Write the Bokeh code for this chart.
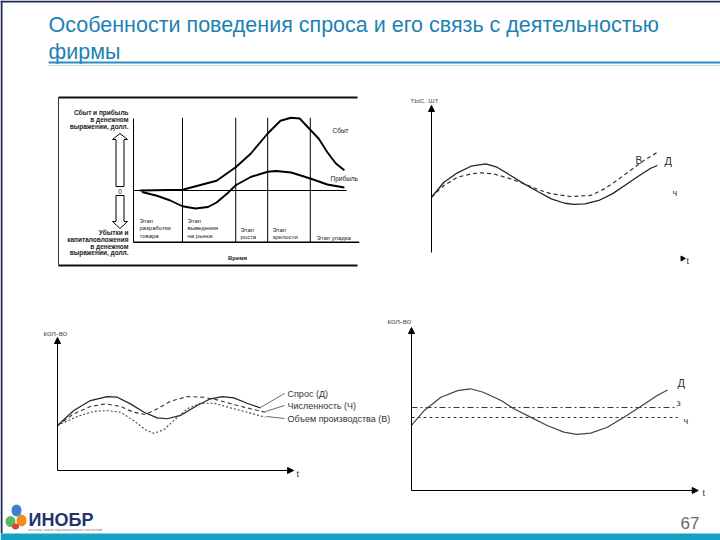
import math
from bokeh.plotting import figure
from bokeh.models import Range1d, Arrow, NormalHead
from bokeh.core.properties import value
from bokeh.embed import file_html
from bokeh.resources import INLINE

# ---------------- data ----------------
# Chart A: product life cycle (time units 0..100, money units)
plc_stage_bounds = [23, 48, 63, 83]
sales_t = [3, 23, 31, 39, 48, 55, 63, 69, 74, 78, 82, 87, 91, 95, 99]
sales_v = [0, 1, 7, 13, 31, 49, 76, 93, 97, 96, 84, 69, 51, 36, 27]
profit_t = [4, 11, 17, 23, 29, 35, 39, 44, 48, 55, 63, 67, 74, 83, 91, 99]
profit_v = [-2, -7, -13, -21, -24, -22, -16, -4, 7, 18, 25, 26, 24, 16, 8, 4]

# Chart B: demand (Д) and output (В)
demand_b_t = [0, 0.55, 1.15, 1.75, 2.4, 2.9, 3.5, 4.1, 4.7, 5.3, 5.9, 6.3, 6.8, 7.4, 8.0, 8.55, 9.15, 9.7, 10]
demand_b_q = [3.76, 4.78, 5.42, 5.87, 6.03, 5.80, 5.24, 4.67, 4.15, 3.65, 3.35, 3.27, 3.31, 3.54, 3.99, 4.56, 5.19, 5.73, 5.92]
output_b_t = [0, 0.55, 1.15, 1.75, 2.2, 2.75, 3.5, 4.1, 4.7, 5.3, 6.15, 7.05, 7.65, 8.2, 8.8, 9.4, 10]
output_b_q = [3.76, 4.56, 5.12, 5.35, 5.42, 5.35, 5.01, 4.67, 4.29, 3.99, 3.81, 3.88, 4.33, 4.90, 5.58, 6.26, 6.82]

# Chart C: demand, headcount, output
demand_c_t = [0, 0.79, 1.6, 2.41, 2.9, 3.54, 4.2, 4.84, 5.33, 5.97, 6.78, 7.43, 8.0, 8.56, 9.2, 9.85]
demand_c_q = [3.38, 4.51, 5.26, 5.56, 5.51, 5.01, 4.38, 3.96, 3.89, 4.14, 4.89, 5.39, 5.56, 5.46, 5.06, 4.71]
staff_c_t = [0, 0.79, 1.6, 2.33, 3.06, 3.7, 4.27, 4.84, 5.49, 6.3, 7.1, 7.75, 8.56, 9.37, 10.1]
staff_c_q = [3.38, 4.26, 4.81, 5.01, 4.81, 4.38, 4.21, 4.64, 5.21, 5.56, 5.51, 5.31, 4.96, 4.64, 4.38]
output_c_t = [0, 0.95, 1.76, 2.41, 3.06, 3.7, 4.27, 4.68, 5.16, 5.65, 6.3, 6.94, 7.59, 8.4, 9.2, 10.1]
output_c_q = [3.38, 4.06, 4.44, 4.51, 4.38, 3.76, 3.06, 2.8, 3.06, 3.76, 4.64, 5.06, 5.06, 4.71, 4.38, 4.01]

# Chart D: demand vs constant stock (З) and headcount (Ч)
demand_d_t = [0, 0.5, 1.15, 1.8, 2.3, 2.8, 3.5, 4.0, 4.65, 5.3, 5.95, 6.45, 7.0, 7.65, 8.3, 8.95, 9.6, 10]
demand_d_q = [3.99, 4.91, 5.72, 6.13, 6.24, 6.03, 5.52, 5.01, 4.5, 3.99, 3.58, 3.44, 3.52, 3.88, 4.5, 5.15, 5.83, 6.17]
stock_level_d = 5.09
staff_level_d = 4.48
level_end_d = 10.4

# ---------------- figure (slide coordinates) ----------------
LEFT, RIGHT, TOP, BOTTOM = 0, 720, 0, 540
p = figure(width=720, height=540, x_range=Range1d(LEFT, RIGHT), y_range=Range1d(BOTTOM, TOP),
           output_backend="svg", toolbar_location=None, min_border=0)
p.axis.visible = False
p.grid.visible = False
p.outline_line_color = None
p.background_fill_color = "white"
p.border_fill_color = "white"


def add_sub(name, xd, xr, yd, yr):
    kx = (xd[1] - xd[0]) / (xr[1] - xr[0])
    ky = (yd[1] - yd[0]) / (yr[1] - yr[0])
    p.extra_x_ranges[name] = Range1d(xd[0] + (LEFT - xr[0]) * kx, xd[0] + (RIGHT - xr[0]) * kx)
    p.extra_y_ranges[name] = Range1d(yd[0] + (BOTTOM - yr[0]) * ky, yd[0] + (TOP - yr[0]) * ky)
    return dict(x_range_name=name, y_range_name=name)


def txt(x, y, s, size, align="left", color="#222222", style="normal", font="Liberation Sans",
        baseline="middle"):
    p.text(x=[x], y=[y], text=[s], text_font=value(font), text_font_size=size,
           text_align=align, text_baseline=baseline, text_color=color, text_font_style=style)


def arrow(x0, y0, x1, y1, rn, size=6, color="black"):
    p.add_layout(Arrow(end=NormalHead(size=size, fill_color=color, line_color=color),
                       x_start=x0, y_start=y0, x_end=x1, y_end=y1, line_color=color, line_width=1, **rn))

# ---------------- slide frame + header ----------------
p.segment(x0=[0, 1], y0=[1, 0], x1=[720, 1], y1=[1, 533], line_color="#1c2b4f", line_width=2)
TITLE_C = "#1d82b3"
txt(48, 24, "Особенности поведения спроса и его связь с деятельностью", "21.5px", color=TITLE_C)
txt(48, 51, "фирмы", "21.5px", color=TITLE_C)
p.segment(x0=[48], y0=[62], x1=[720], y1=[62], line_color="#2a8cc2", line_width=2)
p.segment(x0=[48], y0=[65], x1=[720], y1=[65], line_color="#bfe3f2", line_width=1)

# ---------------- chart A: life cycle ----------------
A = add_sub("A", (0, 100), (133, 346), (0, 100), (190, 115))
# scan frame
p.segment(x0=[58, 58], y0=[97, 265], x1=[357, 357], y1=[97, 265], line_color="#111111", line_width=2)
p.segment(x0=[58], y0=[97], x1=[58], y1=[265], line_color="#333333", line_width=1)
# axes and stage dividers
p.segment(x0=[0], y0=[-69], x1=[0], y1=[96], line_color="black", line_width=1, **A)
p.segment(x0=[0], y0=[-69], x1=[106], y1=[-69], line_color="black", line_width=1.6, **A)
p.segment(x0=[0], y0=[0], x1=[100], y1=[0], line_color="black", line_width=1.2, **A)
p.segment(x0=plc_stage_bounds, y0=[-69] * 4, x1=plc_stage_bounds, y1=[97] * 4,
          line_color="black", line_width=1, **A)
p.line(sales_t, sales_v, line_color="black", line_width=1.9, **A)
p.line(profit_t, profit_v, line_color="black", line_width=1.9, **A)
# hollow arrows
p.patch([115.5, 115.5, 112, 119.5, 127, 123.5, 123.5], [186, 139, 139, 133, 139, 139, 186],
        fill_color="white", line_color="black", line_width=1)
p.patch([115.5, 115.5, 112, 119.5, 127, 123.5, 123.5], [195, 221, 221, 228, 221, 221, 195],
        fill_color="white", line_color="black", line_width=1)
txt(119.5, 191, "0", "6.5px", align="center")
sA = "6.5px"
for yy, s in [(112, "Сбыт и прибыль"), (119, "в денежном"), (126, "выражении, долл.")]:
    txt(128, yy, s, sA, align="right", style="bold")
for yy, s in [(232, "Убытки и"), (239, "капиталовложения"), (245.5, "в денежном"), (252, "выражении, долл.")]:
    txt(128, yy, s, sA, align="right", style="bold")
for xx, lines, y0 in [(139, ["Этап", "разработки", "товара"], 220),
                      (187, ["Этап", "выведения", "на рынок"], 220),
                      (240, ["Этап", "роста"], 229),
                      (272, ["Этап", "зрелости"], 229)]:
    for i, s in enumerate(lines):
        txt(xx, y0 + i * 7.5, s, "6px")
txt(316, 237, "Этап упадка", "6px")
txt(237, 257, "Время", "6px", align="center", style="bold")
txt(332, 130, "Сбыт", "6.5px")
txt(330, 178, "Прибыль", "6.5px")

# ---------------- chart B ----------------
B = add_sub("B", (0, 10), (431, 657), (0, 10), (252, 105))
arrow(0, 0, 0, 10, B, size=6)
p.line(demand_b_t, demand_b_q, line_color="#222222", line_width=1.3, **B)
p.line(output_b_t, output_b_q, line_color="#333333", line_width=1.2, line_dash="4 3", **B)
txt(410, 100, "тыс. шт", "8px", color="#666666")
txt(635, 160, "В", "10px", color="#333333")
txt(664, 160, "Д", "11px", color="#333333")
txt(672, 192, "ч", "9px", color="#333333")
p.scatter([682], [258], marker="triangle", size=5, angle=-math.pi / 2, color="black")
txt(686, 260, "t", "9px", color="#333333")

# ---------------- chart C ----------------
C = add_sub("C", (0, 10), (57, 263), (0, 10), (470, 337))
arrow(0, 0, 0, 10, C, size=6)
arrow(0, 0, 11.46, 0, C, size=6)
p.line(demand_c_t, demand_c_q, line_color="#222222", line_width=1.2, **C)
p.line(staff_c_t, staff_c_q, line_color="#333333", line_width=1.1, line_dash="4 3", **C)
p.line(output_c_t, output_c_q, line_color="#444444", line_width=1.1, line_dash="2 2", **C)
p.segment(x0=[260, 265, 266], y0=[407, 411, 416], x1=[284, 284, 284], y1=[393, 405, 418],
          line_color="#444444", line_width=0.8)
txt(43, 333, "кол-во", "8px", color="#555555")
txt(296, 473, "t", "9px", color="#333333")
txt(287, 393, "Спрос (Д)", "9px", color="#333333")
txt(287, 405, "Численность (Ч)", "9px", color="#333333")
txt(287, 418, "Объем производства (В)", "9px", color="#333333")

# ---------------- chart D ----------------
D = add_sub("D", (0, 10), (411, 667), (0, 10), (490, 327))
arrow(0, 0, 0, 10, D, size=6)
arrow(0, 0, 11.2, 0, D, size=6)
p.segment(x0=[0], y0=[stock_level_d], x1=[level_end_d], y1=[stock_level_d],
          line_color="#333333", line_width=1, line_dash="6 3 2 3", **D)
p.segment(x0=[0], y0=[staff_level_d], x1=[level_end_d], y1=[staff_level_d],
          line_color="#333333", line_width=1, line_dash="3 3", **D)
p.line(demand_d_t, demand_d_q, line_color="#444444", line_width=1.2, **D)
txt(387, 321, "кол-во", "8px", color="#555555")
txt(677, 382, "Д", "11px", color="#333333")
txt(676, 402, "з", "9px", color="#333333")
txt(683, 420, "ч", "9px", color="#333333")
txt(702, 492, "t", "9px", color="#333333")

# ---------------- footer ----------------
p.ellipse(x=[16, 10, 21], y=[510, 521, 520], width=[10, 10, 10], height=[12, 11, 12],
          fill_color=["#3b7fd0", "#5cb85c", "#f08a24"], line_color=None)
p.ellipse(x=[15], y=[526], width=[7], height=[6], fill_color=["#d9443a"], line_color=None)
txt(28, 519, "ИНОБР", "18px", color="#23346b", style="bold")
txt(28, 529, "институт новых образовательных технологий", "3.5px", color="#777777")
txt(680, 522, "67", "17px", color="#6a6a6a")
p.quad(left=[0], right=[720], top=[533], bottom=[540], fill_color="#15a0c6", line_color=None)

open("out.html", "w").write(file_html(p, INLINE))
